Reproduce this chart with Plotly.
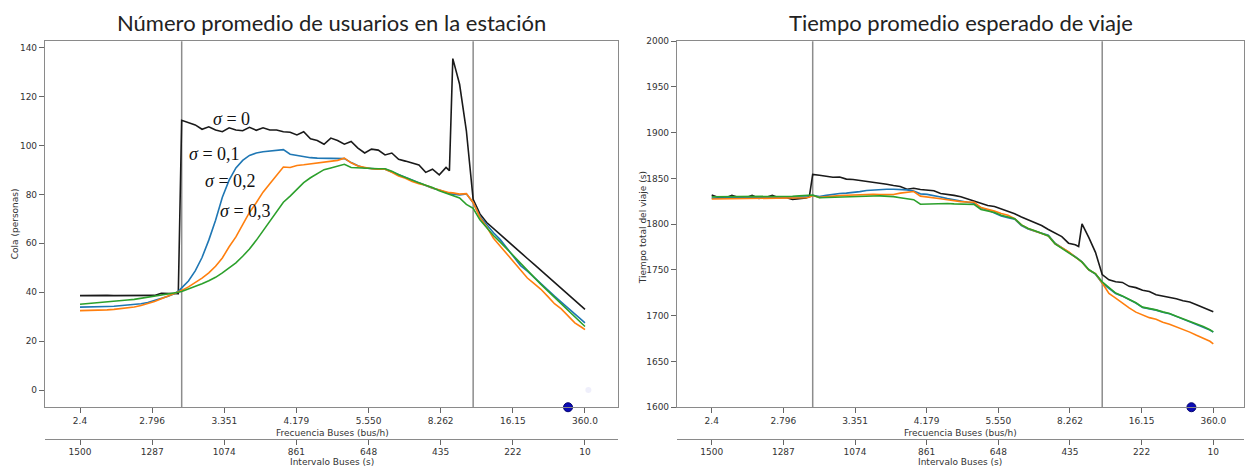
import plotly.graph_objects as go

# ---------------- data ----------------
intervalo = [1500, 1480, 1460, 1440, 1420, 1400, 1380, 1360, 1340, 1320, 1300, 1280, 1260, 1240, 1220, 1210,
             1200, 1180, 1160, 1140, 1120, 1100, 1080, 1060, 1040, 1020, 1000, 980, 960, 940, 920, 900,
             880, 860, 840, 820, 800, 780, 760, 740, 720, 700, 680, 660, 640, 620, 600, 580,
             560, 540, 520, 500, 480, 460, 440, 420, 410, 400, 380, 360, 340, 320, 300, 280,
             260, 240, 220, 200, 180, 160, 140, 120, 100, 80, 60, 40, 20, 10]

cola_s0 = [38.6, 38.7, 38.6, 38.6, 38.7, 38.6, 38.6, 38.7, 38.6, 38.6, 38.6, 38.7, 39.6, 39.5, 39.5, 39.4,
           110.3, 109.4, 108.4, 106.6, 107.6, 106.3, 105.6, 107.2, 106.3, 106.0, 107.4, 106.2, 107.2, 106.3, 106.3, 105.6,
           105.4, 104.3, 105.6, 102.7, 102.0, 100.5, 103.0, 102.0, 100.5, 101.6, 98.9, 96.9, 98.5, 98.1, 96.1, 96.9,
           94.3, 93.6, 92.9, 92.0, 89.0, 90.3, 88.0, 91.0, 89.7, 135.5, 125.0, 106.0, 78.0, 72.0, 68.5, 66.0,
           63.5, 61.1, 58.7, 56.3, 53.8, 51.4, 48.9, 46.4, 44.0, 41.5, 39.0, 36.6, 34.2, 33.0]
cola_s1 = [33.9, 33.9, 34.0, 34.1, 34.2, 34.3, 34.5, 34.7, 35.0, 35.3, 35.8, 36.6, 37.4, 38.4, 39.5, 40.4,
           41.8, 44.6, 48.7, 54.2, 61.3, 69.4, 78.8, 85.8, 90.8, 93.9, 95.9, 96.9, 97.4, 97.8, 98.1, 98.3,
           96.4, 95.9, 95.5, 95.0, 94.8, 94.7, 94.7, 94.7, 94.6, 93.0, 91.7, 90.8, 90.4, 90.3, 90.3, 89.2,
           88.0, 86.9, 85.7, 84.8, 83.4, 82.5, 81.8, 80.6, 80.3, 80.1, 79.8, 80.2, 76.6, 71.0, 67.5, 64.3,
           61.5, 58.1, 54.4, 50.9, 48.6, 46.0, 43.2, 40.8, 38.4, 36.0, 33.7, 31.3, 28.7, 27.5]
cola_s2 = [32.5, 32.5, 32.6, 32.7, 32.8, 33.0, 33.3, 33.6, 34.0, 34.6, 35.3, 36.2, 37.3, 38.4, 39.5, 40.1,
           40.7, 42.2, 43.9, 45.8, 47.9, 50.6, 54.0, 58.6, 62.6, 67.5, 72.6, 76.6, 80.9, 84.3, 87.7, 91.2,
           91.0, 91.8, 92.1, 92.4, 92.8, 93.1, 93.4, 93.9, 94.8, 92.9, 91.6, 90.9, 90.5, 90.3, 90.3, 89.0,
           87.5, 86.6, 85.3, 84.4, 83.7, 82.6, 81.8, 80.9, 80.7, 80.6, 80.1, 80.3, 76.7, 70.6, 66.7, 62.1,
           58.8, 55.6, 52.3, 49.1, 45.8, 43.5, 41.2, 38.3, 35.3, 33.2, 30.3, 27.5, 25.7, 24.7]
cola_s3 = [35.1, 35.3, 35.5, 35.7, 35.9, 36.2, 36.5, 36.8, 37.1, 37.5, 37.9, 38.4, 38.9, 39.4, 39.8, 40.0,
           40.3, 41.3, 42.4, 43.5, 44.7, 46.1, 47.9, 50.0, 52.0, 54.7, 57.7, 61.2, 65.1, 68.5, 72.7, 76.8,
           79.3, 82.0, 84.8, 86.8, 88.5, 90.1, 90.8, 91.6, 92.3, 91.0, 90.8, 90.6, 90.5, 90.5, 90.5, 89.5,
           88.0, 86.8, 85.6, 84.7, 83.7, 82.8, 81.5, 80.5, 80.0, 79.5, 78.5, 75.9, 74.3, 69.6, 66.4, 63.2,
           60.5, 57.7, 54.7, 51.8, 48.9, 46.1, 43.2, 40.6, 38.0, 35.2, 32.5, 29.9, 27.3, 26.0]

tiempo_s0 = [1831.8, 1829.3, 1828.6, 1831.5, 1829.3, 1828.6, 1831.5, 1828.2, 1829.3, 1831.5, 1828.6, 1829.3, 1827.2, 1828.2, 1828.6, 1830.0,
             1854.4, 1853.6, 1852.2, 1851.4, 1851.5, 1849.3, 1848.9, 1847.9, 1847.2, 1845.7, 1844.7, 1843.6, 1842.3, 1841.3, 1838.2, 1839.3,
             1837.9, 1837.2, 1836.5, 1833.6, 1832.9, 1831.5, 1830.0, 1827.5, 1825.0, 1822.9, 1820.4, 1819.3, 1816.8, 1814.0, 1811.5, 1807.9,
             1805.0, 1801.5, 1798.6, 1794.3, 1790.7, 1786.5, 1779.3, 1777.5, 1775.7, 1800.4, 1785.7, 1769.3, 1745.0, 1739.3, 1737.1, 1736.4,
             1732.1, 1730.7, 1727.9, 1726.4, 1722.9, 1721.4, 1720.7, 1718.6, 1716.4, 1715.0, 1712.1, 1709.3, 1706.1, 1704.3]
tiempo_s1 = [1828.5, 1828.6, 1828.6, 1828.6, 1828.6, 1828.6, 1828.6, 1828.6, 1828.7, 1828.8, 1828.9, 1829.0, 1829.2, 1829.4, 1829.6, 1830.0,
             1831.5, 1830.3, 1831.5, 1832.8, 1833.5, 1834.0, 1834.6, 1835.6, 1836.8, 1837.4, 1837.9, 1838.2, 1838.3, 1838.2, 1837.5, 1836.2,
             1833.2, 1832.6, 1831.5, 1829.8, 1828.0, 1826.5, 1825.2, 1824.0, 1823.0, 1817.9, 1815.4, 1812.2, 1809.0, 1807.2, 1805.4, 1798.6,
             1794.7, 1792.2, 1789.7, 1787.9, 1779.3, 1774.0, 1769.5, 1764.5, 1762.0, 1759.0, 1750.0, 1745.4, 1735.7, 1730.0, 1724.3, 1721.4,
             1717.9, 1713.9, 1708.9, 1707.9, 1706.1, 1703.9, 1702.1, 1699.3, 1696.4, 1693.6, 1690.7, 1687.9, 1684.3, 1682.1]
tiempo_s2 = [1827.5, 1827.6, 1827.6, 1827.6, 1827.6, 1827.6, 1827.6, 1827.7, 1827.8, 1827.9, 1828.0, 1828.2, 1828.4, 1828.7, 1829.0, 1829.5,
             1831.3, 1829.3, 1830.2, 1830.8, 1831.3, 1831.6, 1832.0, 1832.4, 1832.8, 1832.6, 1832.3, 1832.3, 1832.5, 1834.0, 1835.0, 1835.7,
             1830.7, 1830.0, 1829.3, 1827.9, 1826.8, 1825.4, 1824.7, 1824.3, 1824.0, 1818.2, 1816.5, 1814.3, 1811.8, 1809.7, 1806.1, 1799.3,
             1795.4, 1792.9, 1790.0, 1787.2, 1778.6, 1774.0, 1770.0, 1764.0, 1761.5, 1758.5, 1750.0, 1746.1, 1735.7, 1724.3, 1719.3, 1713.6,
             1708.6, 1703.9, 1700.7, 1697.9, 1696.1, 1692.9, 1690.7, 1687.9, 1685.0, 1682.1, 1678.6, 1675.7, 1672.1, 1669.3]
tiempo_s3 = [1830.0, 1830.0, 1830.0, 1830.0, 1830.0, 1830.0, 1830.0, 1830.0, 1830.0, 1830.0, 1830.0, 1830.3, 1830.6, 1831.0, 1831.4, 1831.7,
             1831.9, 1829.0, 1829.3, 1829.6, 1830.0, 1830.2, 1830.4, 1830.5, 1830.7, 1830.8, 1831.0, 1830.8, 1830.2, 1829.0, 1828.0, 1826.8,
             1821.8, 1822.0, 1822.3, 1822.7, 1822.6, 1822.2, 1822.0, 1821.8, 1821.5, 1816.1, 1814.7, 1812.9, 1809.7, 1807.9, 1806.1, 1799.3,
             1795.4, 1792.9, 1790.0, 1787.2, 1778.6, 1774.0, 1769.5, 1764.0, 1761.5, 1758.5, 1750.5, 1745.8, 1737.0, 1730.5, 1724.8, 1721.6,
             1718.2, 1714.2, 1709.4, 1708.0, 1706.4, 1704.2, 1702.4, 1699.5, 1696.8, 1693.9, 1691.0, 1688.2, 1684.6, 1682.3]

sigma_labels = ["σ = 0", "σ = 0,1", "σ = 0,2", "σ = 0,3"]
series_colors = ["#1a1a1a", "#1f77b4", "#ff7f0e", "#2ca02c"]

tick_intervalo = [1500, 1287.14, 1074.29, 861.43, 648.57, 435.71, 222.86, 10]
tick_frecuencia_text = ["2.4", "2.796", "3.351", "4.179", "5.550", "8.262", "16.15", "360.0"]
tick_intervalo_text = ["1500", "1287", "1074", "861", "648", "435", "222", "10"]

limites_regimen = [1200, 340]          # vertical reference lines (interval, s)
punto_opt_izq = [60]                    # blue marker on bottom axis (interval, s)
punto_opt_der = [75]
punto_claro = ([0], [0])                # very faint point on left chart

cola_ticks = [0, 20, 40, 60, 80, 100, 120, 140]
tiempo_ticks = [1600, 1650, 1700, 1750, 1800, 1850, 1900, 1950, 2000]

# label anchor positions (interval, value) for sigma labels
sigma_pos = [(1054, 111.0), (1103, 96.6), (1057, 85.4), (1012, 73.4)]

# ---------------- layout constants ----------------
W, H = 1245, 469
yr_left = [-7.0, 142.6]
yr_right = [1600, 2000]
xr_left = [1603.3, -87.4]
xr_right = [1603.1, -81.2]

def px(xp):
    return xp / W

def py(yp):
    return 1 - yp / H

plot_top, plot_bot = 37, 411
y_domain = [py(plot_bot), py(plot_top)]
xd_left = [px(45), px(618)]
xd_right = [px(677), px(1244)]

fig = go.Figure()

cola = [cola_s0, cola_s1, cola_s2, cola_s3]
tiempo = [tiempo_s0, tiempo_s1, tiempo_s2, tiempo_s3]
for i in range(4):
    fig.add_trace(go.Scatter(x=intervalo, y=cola[i], mode="lines", name=sigma_labels[i],
                             line=dict(color=series_colors[i], width=1.6), xaxis="x", yaxis="y",
                             showlegend=False))
for i in range(4):
    fig.add_trace(go.Scatter(x=intervalo, y=tiempo[i], mode="lines", name=sigma_labels[i],
                             line=dict(color=series_colors[i], width=1.6), xaxis="x2", yaxis="y2",
                             showlegend=False))

# markers on bottom axis
fig.add_trace(go.Scatter(x=punto_claro[0], y=punto_claro[1], mode="markers",
                         marker=dict(color="rgba(190,190,240,0.25)", size=6),
                         xaxis="x", yaxis="y", showlegend=False, hoverinfo="skip"))
fig.add_trace(go.Scatter(x=punto_opt_izq, y=[yr_left[0]], mode="markers",
                         marker=dict(color="#0a0ab4", size=9, line=dict(color="#050570", width=1)),
                         xaxis="x", yaxis="y", showlegend=False, cliponaxis=False))
fig.add_trace(go.Scatter(x=punto_opt_der, y=[yr_right[0]], mode="markers",
                         marker=dict(color="#0a0ab4", size=9, line=dict(color="#050570", width=1)),
                         xaxis="x2", yaxis="y2", showlegend=False, cliponaxis=False))
# invisible traces to register secondary axes
fig.add_trace(go.Scatter(x=[tick_intervalo[0]], y=[None], xaxis="x3", yaxis="y", showlegend=False, hoverinfo="skip"))
fig.add_trace(go.Scatter(x=[tick_intervalo[0]], y=[None], xaxis="x4", yaxis="y2", showlegend=False, hoverinfo="skip"))

tickfont = dict(family="DejaVu Sans", size=9, color="#333333")
axis_common = dict(showgrid=False, zeroline=False, showline=True, linecolor="#8a8a8a", linewidth=1.2,
                   ticks="outside", ticklen=5, tickcolor="#666666", tickwidth=1, tickfont=tickfont)

fig.update_layout(
    width=W, height=H, margin=dict(l=0, r=0, t=0, b=0),
    paper_bgcolor="white", plot_bgcolor="white", showlegend=False,
    xaxis=dict(domain=xd_left, range=xr_left, anchor="y", tickmode="array", tickvals=tick_intervalo,
               ticktext=tick_frecuencia_text, mirror=True, **axis_common),
    yaxis=dict(domain=y_domain, range=yr_left, anchor="x", tickmode="array", tickvals=cola_ticks,
               mirror=True, **axis_common),
    xaxis2=dict(domain=xd_right, range=xr_right, anchor="y2", tickmode="array", tickvals=tick_intervalo,
                ticktext=tick_frecuencia_text, mirror=True, **axis_common),
    yaxis2=dict(domain=y_domain, range=yr_right, anchor="x2", tickmode="array", tickvals=tiempo_ticks,
                mirror=True, **axis_common),
    xaxis3=dict(overlaying="x", anchor="free", position=py(443), side="bottom", range=xr_left,
                tickmode="array", tickvals=tick_intervalo, ticktext=tick_intervalo_text, **axis_common),
    xaxis4=dict(overlaying="x2", anchor="free", position=py(443), side="bottom", range=xr_right,
                tickmode="array", tickvals=tick_intervalo, ticktext=tick_intervalo_text, **axis_common),
)

for xv in limites_regimen:
    for xr, yr in (("x", "y domain"), ("x2", "y2 domain")):
        fig.add_shape(type="line", xref=xr, yref=yr, x0=xv, x1=xv, y0=0, y1=1,
                      line=dict(color="#8c8c8c", width=1.5), layer="below")

ann = []
title_font = dict(family="Lato", size=22, color="#222222")
ann.append(dict(text="Número promedio de usuarios en la estación", x=px(331), y=py(18), xref="paper", yref="paper",
                showarrow=False, font=title_font, xanchor="center", yanchor="middle"))
ann.append(dict(text="Tiempo promedio esperado de viaje", x=px(961), y=py(18), xref="paper", yref="paper",
                showarrow=False, font=title_font, xanchor="center", yanchor="middle"))
lab_font = dict(family="DejaVu Sans", size=9, color="#333333")
for cx in (332, 960):
    ann.append(dict(text="Frecuencia Buses (bus/h)", x=px(cx), y=py(437), xref="paper", yref="paper",
                    showarrow=False, font=lab_font, xanchor="center", yanchor="middle"))
    ann.append(dict(text="Intervalo Buses (s)", x=px(cx), y=py(467), xref="paper", yref="paper",
                    showarrow=False, font=lab_font, xanchor="center", yanchor="middle"))
ann.append(dict(text="Cola (personas)", x=px(15), y=py(224), xref="paper", yref="paper", textangle=-90,
                showarrow=False, font=lab_font, xanchor="center", yanchor="middle"))
ann.append(dict(text="Tiempo total del viaje (s)", x=px(643), y=py(228), xref="paper", yref="paper", textangle=-90,
                showarrow=False, font=lab_font, xanchor="center", yanchor="middle"))
sig_font = dict(family="Liberation Serif", size=18, color="#111111")
for lab, (sx, sy) in zip(sigma_labels, sigma_pos):
    parts = lab.split(" = ")
    ann.append(dict(text="<i>σ</i> = " + parts[1], x=sx, y=sy, xref="x", yref="y",
                    showarrow=False, font=sig_font, xanchor="center", yanchor="middle"))
fig.update_layout(annotations=ann)

fig.write_html("out.html")
